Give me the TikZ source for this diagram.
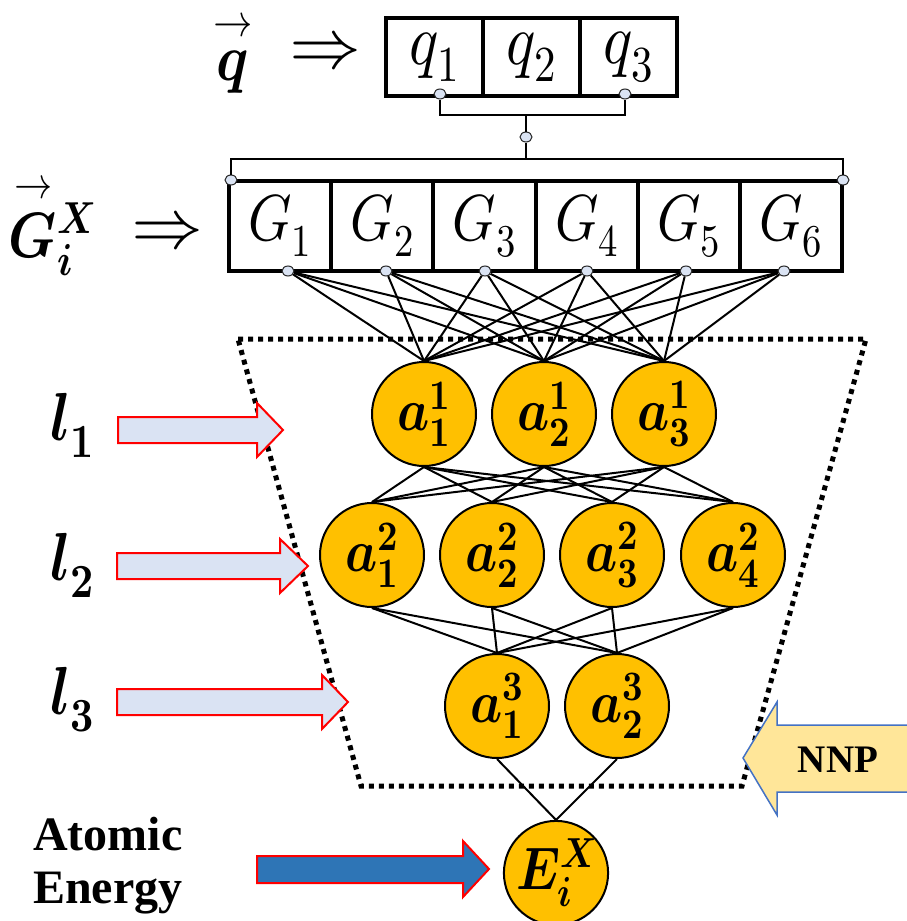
\documentclass[tikz,border=0pt]{standalone}
\usepackage{amsmath}
\usepackage{fontspec}
\usepackage{unicode-math}
\usepackage{graphicx}
\newfontfamily\tnr{Liberation Serif}
\usetikzlibrary{shapes.geometric,calc}
\definecolor{gold}{HTML}{FFC000}
\definecolor{lightblue}{HTML}{DAE3F3}
\definecolor{deepblue}{HTML}{2E75B6}
\definecolor{paleyellow}{HTML}{FFE699}
\definecolor{outlineblue}{HTML}{4472C4}
\newcommand{\nx}[1]{\scalebox{0.85}[1]{#1}}
\begin{document}
\begin{tikzpicture}[x=1pt,y=-1pt,
  qcell/.style={draw, line width=4pt, minimum width=97pt, minimum height=78pt, inner sep=0pt,
    font=\fontsize{72}{72}\selectfont},
  gcell/.style={draw, line width=4pt, minimum width=102.2pt, minimum height=90pt, inner sep=0pt,
    font=\fontsize{65}{65}\selectfont},
  dot/.style={ellipse, draw=black!85, fill=lightblue, line width=1pt, minimum width=12pt,
    minimum height=10pt, inner sep=0pt},
  wire/.style={line width=2pt},
  bracket/.style={line width=2pt},
  neuron/.style={circle, draw, fill=gold, line width=2pt, minimum size=104pt, inner sep=0pt,
    font=\fontsize{60}{60}\selectfont},
  label/.style={inner sep=0pt, font=\fontsize{64}{64}\selectfont},
  larrow/.style={draw=red, fill=lightblue, line width=2pt, line join=miter},
  barrow/.style={draw=red, fill=deepblue, line width=2pt, line join=miter},
  narrow/.style={draw=outlineblue, fill=paleyellow, line width=1.5pt, line join=miter},
  border/.style={line width=5pt, dash pattern=on 5pt off 5pt},
  btext/.style={inner sep=0pt, font=\tnr\bfseries\fontsize{48}{53}\selectfont, align=left}
]
\useasboundingbox (0,0) rectangle (907,921);

% ----- q vector -----
\node[label, font=\fontsize{66}{66}\selectfont] (qvec) at (233,49) {\nx{$\overset{\rightarrow}{\symbfit{q}}$}};
\node[label, font=\fontsize{72}{72}\selectfont] (qimp) at (325,50) {$\Rightarrow$};
\node[qcell] (q1) at (434.5,57) {\nx{$q_1$}};
\node[qcell] (q2) at (531.5,57) {\nx{$q_2$}};
\node[qcell] (q3) at (628.5,57) {\nx{$q_3$}};

% ----- G vector -----
\node[label, font=\fontsize{64}{64}\selectfont] (gvec) at (52,222) {\nx{$\overset{\rightarrow}{\symbfit{G}}{}_{\symbfit{i}}^{\symbfit{X}}$}};
\node[label, font=\fontsize{72}{72}\selectfont] (gimp) at (167,230) {$\Rightarrow$};
\foreach \k/\x in {1/280.1,2/382.3,3/484.5,4/586.7,5/688.9,6/791.1}
  \node[gcell] (G\k) at (\x,226) {\nx{$G_\k$}};

% ----- bracket -----
\node[dot] (qd1) at (440,94) {};
\node[dot] (qd3) at (625,94) {};
\node[dot] (md) at (526,137) {};
\node[dot] (gl) at (231,180) {};
\node[dot] (gr) at (843,180) {};
\coordinate (qbar) at (526,115);
\coordinate (gbar) at (526,159);
\draw[bracket] (qd1) |- (qbar) -| (qd3);
\draw[bracket] (qbar) -- (md) -- (gbar);
\draw[bracket] (gl) |- (gbar) -| (gr);

% ----- G output dots -----
\foreach \k/\x in {1/288,2/386,3/485,4/587,5/686,6/784}
  \node[dot] (gd\k) at (\x,271) {};

% ----- neurons -----
\foreach \i/\x in {1/424,2/544,3/664}
  \node[neuron] (a1\i) at (\x,414) {\nx{$\symbfit{a}^{\symbf{1}}_{\symbf{\i}}$}};
\foreach \i/\x in {1/372,2/492,3/612,4/733}
  \node[neuron] (a2\i) at (\x,555) {\nx{$\symbfit{a}^{\symbf{2}}_{\symbf{\i}}$}};
\foreach \i/\x in {1/497,2/617}
  \node[neuron] (a3\i) at (\x,706) {\nx{$\symbfit{a}^{\symbf{3}}_{\symbf{\i}}$}};
\node[neuron] (E) at (556,873) {\nx{$\symbfit{E}^{\symbfit{X}}_{\symbfit{i}}$}};

% ----- connections -----
\foreach \g in {1,...,6}
  \foreach \a in {1,2,3}
    \draw[wire] (gd\g) -- (a1\a.north);
\foreach \a in {1,2,3}
  \foreach \b in {1,...,4}
    \draw[wire] (a1\a.south) -- (a2\b.north);
\foreach \b in {1,...,4}
  \foreach \c in {1,2}
    \draw[wire] (a2\b.south) -- (a3\c.north);
\foreach \c in {1,2}
  \draw[wire] (a3\c.south) -- (E.north);

% ----- dotted trapezoid -----
\coordinate (t1) at (238,339);
\coordinate (t2) at (866,339);
\coordinate (t3) at (742,786);
\coordinate (t4) at (361,786);
\draw[border] (t1) -- (t2) -- (t3) -- (t4) -- cycle;

% ----- layer labels and arrows -----
\node[label, font=\fontsize{68}{68}\selectfont] (l1) at (72,425) {\nx{$\symbfit{l}_{\symbf{1}}$}};
\node[label, font=\fontsize{68}{68}\selectfont] (l2) at (72,565) {\nx{$\symbfit{l}_{\symbf{2}}$}};
\node[label, font=\fontsize{68}{68}\selectfont] (l3) at (72,700) {\nx{$\symbfit{l}_{\symbf{3}}$}};
\draw[larrow] (118,417) -- (257,417) -- (257,403) -- (283,430) -- (257,457) -- (257,443) -- (118,443) -- cycle;
\draw[larrow] (117,553) -- (280,553) -- (280,539) -- (308,566) -- (280,593) -- (280,579) -- (117,579) -- cycle;
\draw[larrow] (117,689) -- (322,689) -- (322,675) -- (348,702) -- (322,729) -- (322,715) -- (117,715) -- cycle;

% ----- atomic energy -----
\node[btext, anchor=west] (ae) at (33,866) {Atomic\\Energy};
\draw[barrow] (257,856) -- (463,856) -- (463,841) -- (489,869) -- (463,897) -- (463,883) -- (257,883) -- cycle;

% ----- NNP -----
\draw[narrow] (915,725) -- (777,725) -- (777,702) -- (743,758) -- (777,815) -- (777,792) -- (915,792) -- cycle;
\node[inner sep=0pt, font=\tnr\bfseries\fontsize{39}{39}\selectfont] (nnp) at (838,760) {NNP};
\end{tikzpicture}
\end{document}
